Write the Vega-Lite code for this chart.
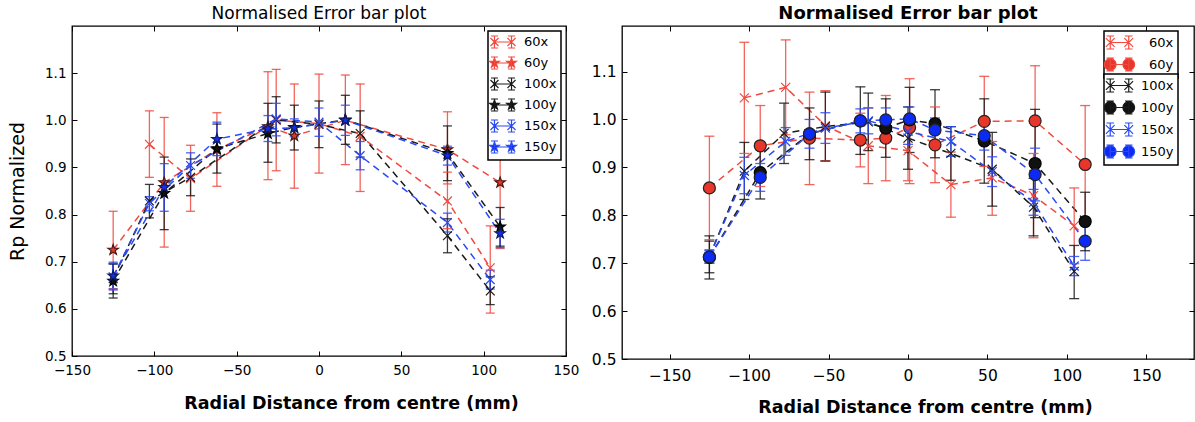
{
"$schema": "https://vega.github.io/schema/vega-lite/v6.json",
"background": "white",
"padding": {"left": 7, "top": 3, "right": 0, "bottom": 0},
"datasets": {"pts": [
{"p":"L","s":"60x","x":-103,"y":0.949,"lo":0.879,"hi":1.020},
{"p":"L","s":"60x","x":-78,"y":0.876,"lo":0.807,"hi":0.947},
{"p":"L","s":"60x","x":-26,"y":1.000,"lo":0.893,"hi":1.108},
{"p":"L","s":"60x","x":0,"y":0.993,"lo":0.888,"hi":1.098},
{"p":"L","s":"60x","x":25,"y":0.966,"lo":0.849,"hi":1.077},
{"p":"L","s":"60x","x":78,"y":0.829,"lo":0.770,"hi":0.890},
{"p":"L","s":"60x","x":104,"y":0.687,"lo":0.591,"hi":0.776},
{"p":"L","s":"60y","x":-125,"y":0.725,"lo":0.643,"hi":0.807},
{"p":"L","s":"60y","x":-94,"y":0.868,"lo":0.731,"hi":1.006},
{"p":"L","s":"60y","x":-62,"y":0.938,"lo":0.860,"hi":1.016},
{"p":"L","s":"60y","x":-31,"y":0.987,"lo":0.874,"hi":1.103},
{"p":"L","s":"60y","x":-15,"y":0.967,"lo":0.856,"hi":1.077},
{"p":"L","s":"60y","x":16,"y":1.000,"lo":0.906,"hi":1.096},
{"p":"L","s":"60y","x":78,"y":0.938,"lo":0.865,"hi":1.018},
{"p":"L","s":"60y","x":110,"y":0.868,"lo":0.728,"hi":1.008},
{"p":"L","s":"100x","x":-125,"y":0.664,"lo":0.632,"hi":0.696},
{"p":"L","s":"100x","x":-103,"y":0.829,"lo":0.793,"hi":0.864},
{"p":"L","s":"100x","x":-78,"y":0.879,"lo":0.840,"hi":0.918},
{"p":"L","s":"100x","x":-26,"y":1.001,"lo":0.952,"hi":1.050},
{"p":"L","s":"100x","x":0,"y":0.991,"lo":0.942,"hi":1.041},
{"p":"L","s":"100x","x":25,"y":0.972,"lo":0.922,"hi":1.020},
{"p":"L","s":"100x","x":78,"y":0.755,"lo":0.719,"hi":0.791},
{"p":"L","s":"100x","x":104,"y":0.638,"lo":0.609,"hi":0.668},
{"p":"L","s":"100y","x":-125,"y":0.659,"lo":0.623,"hi":0.695},
{"p":"L","s":"100y","x":-94,"y":0.845,"lo":0.768,"hi":0.922},
{"p":"L","s":"100y","x":-62,"y":0.940,"lo":0.888,"hi":0.992},
{"p":"L","s":"100y","x":-31,"y":0.972,"lo":0.911,"hi":1.036},
{"p":"L","s":"100y","x":-15,"y":0.985,"lo":0.937,"hi":1.032},
{"p":"L","s":"100y","x":16,"y":1.001,"lo":0.949,"hi":1.053},
{"p":"L","s":"100y","x":78,"y":0.930,"lo":0.872,"hi":0.988},
{"p":"L","s":"100y","x":110,"y":0.774,"lo":0.733,"hi":0.815},
{"p":"L","s":"150x","x":-125,"y":0.668,"lo":0.640,"hi":0.696},
{"p":"L","s":"150x","x":-103,"y":0.824,"lo":0.808,"hi":0.838},
{"p":"L","s":"150x","x":-78,"y":0.904,"lo":0.877,"hi":0.931},
{"p":"L","s":"150x","x":-26,"y":1.003,"lo":0.967,"hi":1.036},
{"p":"L","s":"150x","x":0,"y":0.996,"lo":0.966,"hi":1.026},
{"p":"L","s":"150x","x":25,"y":0.925,"lo":0.895,"hi":0.955},
{"p":"L","s":"150x","x":78,"y":0.783,"lo":0.763,"hi":0.803},
{"p":"L","s":"150x","x":104,"y":0.662,"lo":0.642,"hi":0.682},
{"p":"L","s":"150y","x":-125,"y":0.670,"lo":0.642,"hi":0.699},
{"p":"L","s":"150y","x":-94,"y":0.858,"lo":0.807,"hi":0.908},
{"p":"L","s":"150y","x":-62,"y":0.960,"lo":0.925,"hi":0.996},
{"p":"L","s":"150y","x":-31,"y":0.982,"lo":0.955,"hi":1.010},
{"p":"L","s":"150y","x":-15,"y":0.984,"lo":0.965,"hi":1.003},
{"p":"L","s":"150y","x":16,"y":1.000,"lo":0.968,"hi":1.032},
{"p":"L","s":"150y","x":78,"y":0.925,"lo":0.905,"hi":0.945},
{"p":"L","s":"150y","x":110,"y":0.760,"lo":0.730,"hi":0.790},
{"p":"R","s":"60x","x":-103,"y":1.045,"lo":0.929,"hi":1.161},
{"p":"R","s":"60x","x":-77,"y":1.067,"lo":0.968,"hi":1.166},
{"p":"R","s":"60x","x":-52,"y":0.987,"lo":0.914,"hi":1.060},
{"p":"R","s":"60x","x":-25,"y":0.945,"lo":0.866,"hi":1.024},
{"p":"R","s":"60x","x":0,"y":0.935,"lo":0.872,"hi":0.998},
{"p":"R","s":"60x","x":27,"y":0.864,"lo":0.796,"hi":0.932},
{"p":"R","s":"60x","x":53,"y":0.878,"lo":0.800,"hi":0.954},
{"p":"R","s":"60x","x":79,"y":0.841,"lo":0.753,"hi":0.929},
{"p":"R","s":"60x","x":104.6,"y":0.778,"lo":0.699,"hi":0.857},
{"p":"R","s":"60y","x":-125,"y":0.857,"lo":0.749,"hi":0.965},
{"p":"R","s":"60y","x":-93,"y":0.945,"lo":0.860,"hi":1.029},
{"p":"R","s":"60y","x":-62,"y":0.961,"lo":0.864,"hi":1.057},
{"p":"R","s":"60y","x":-30,"y":0.957,"lo":0.901,"hi":1.013},
{"p":"R","s":"60y","x":-14,"y":0.961,"lo":0.872,"hi":1.050},
{"p":"R","s":"60y","x":1,"y":0.983,"lo":0.866,"hi":1.085},
{"p":"R","s":"60y","x":17,"y":0.947,"lo":0.868,"hi":1.026},
{"p":"R","s":"60y","x":48,"y":0.996,"lo":0.902,"hi":1.090},
{"p":"R","s":"60y","x":80,"y":0.997,"lo":0.882,"hi":1.112},
{"p":"R","s":"60y","x":111.5,"y":0.906,"lo":0.783,"hi":1.029},
{"p":"R","s":"100x","x":-125,"y":0.713,"lo":0.680,"hi":0.746},
{"p":"R","s":"100x","x":-103,"y":0.892,"lo":0.833,"hi":0.952},
{"p":"R","s":"100x","x":-78,"y":0.971,"lo":0.908,"hi":1.034},
{"p":"R","s":"100x","x":-52,"y":0.985,"lo":0.913,"hi":1.057},
{"p":"R","s":"100x","x":-25,"y":0.995,"lo":0.935,"hi":1.055},
{"p":"R","s":"100x","x":0,"y":0.961,"lo":0.896,"hi":1.026},
{"p":"R","s":"100x","x":27,"y":0.929,"lo":0.873,"hi":0.985},
{"p":"R","s":"100x","x":53,"y":0.896,"lo":0.819,"hi":0.973},
{"p":"R","s":"100x","x":79,"y":0.817,"lo":0.757,"hi":0.877},
{"p":"R","s":"100x","x":104.6,"y":0.683,"lo":0.626,"hi":0.737},
{"p":"R","s":"100y","x":-125,"y":0.712,"lo":0.667,"hi":0.757},
{"p":"R","s":"100y","x":-93,"y":0.889,"lo":0.834,"hi":0.944},
{"p":"R","s":"100y","x":-62,"y":0.970,"lo":0.916,"hi":1.024},
{"p":"R","s":"100y","x":-30,"y":0.997,"lo":0.927,"hi":1.068},
{"p":"R","s":"100y","x":-14,"y":0.982,"lo":0.921,"hi":1.043},
{"p":"R","s":"100y","x":1,"y":0.999,"lo":0.931,"hi":1.067},
{"p":"R","s":"100y","x":17,"y":0.991,"lo":0.920,"hi":1.062},
{"p":"R","s":"100y","x":48,"y":0.955,"lo":0.867,"hi":1.043},
{"p":"R","s":"100y","x":80,"y":0.908,"lo":0.795,"hi":1.021},
{"p":"R","s":"100y","x":111.5,"y":0.787,"lo":0.726,"hi":0.848},
{"p":"R","s":"150x","x":-125,"y":0.714,"lo":0.700,"hi":0.728},
{"p":"R","s":"150x","x":-103,"y":0.883,"lo":0.845,"hi":0.921},
{"p":"R","s":"150x","x":-77,"y":0.954,"lo":0.925,"hi":0.983},
{"p":"R","s":"150x","x":-52,"y":0.982,"lo":0.950,"hi":1.014},
{"p":"R","s":"150x","x":-25,"y":0.997,"lo":0.970,"hi":1.024},
{"p":"R","s":"150x","x":0,"y":0.975,"lo":0.948,"hi":1.002},
{"p":"R","s":"150x","x":27,"y":0.954,"lo":0.923,"hi":0.985},
{"p":"R","s":"150x","x":53,"y":0.891,"lo":0.860,"hi":0.922},
{"p":"R","s":"150x","x":79,"y":0.827,"lo":0.800,"hi":0.854},
{"p":"R","s":"150x","x":104.6,"y":0.694,"lo":0.674,"hi":0.714},
{"p":"R","s":"150y","x":-125,"y":0.713,"lo":0.700,"hi":0.726},
{"p":"R","s":"150y","x":-93,"y":0.879,"lo":0.850,"hi":0.908},
{"p":"R","s":"150y","x":-62,"y":0.970,"lo":0.940,"hi":1.000},
{"p":"R","s":"150y","x":-30,"y":0.997,"lo":0.972,"hi":1.022},
{"p":"R","s":"150y","x":-14,"y":0.999,"lo":0.974,"hi":1.024},
{"p":"R","s":"150y","x":1,"y":1.001,"lo":0.976,"hi":1.026},
{"p":"R","s":"150y","x":17,"y":0.978,"lo":0.953,"hi":1.003},
{"p":"R","s":"150y","x":48,"y":0.966,"lo":0.936,"hi":0.996},
{"p":"R","s":"150y","x":80,"y":0.885,"lo":0.830,"hi":0.940},
{"p":"R","s":"150y","x":111.5,"y":0.746,"lo":0.706,"hi":0.786}
]},
"data": {"name": "pts"},
"spacing": 56,
"bounds": "flush",
"hconcat": [
{
 "width": 494, "height": 330,
 "title": {"text": "Normalised Error bar plot", "fontSize": 17, "fontWeight": "normal", "frame": "group", "offset": 3},
 "transform": [{"filter": "datum.p == 'L'"}],
 "layer": [
  {"mark": {"type": "line", "strokeDash": [7, 5], "strokeWidth": 1.5},
   "encoding": {
    "x": {"field": "x", "type": "quantitative", "scale": {"domain": [-150, 150], "nice": false, "zero": false},
          "axis": {"orient": "bottom", "values": [-150, -100, -50, 0, 50, 100, 150], "format": "d", "labelFontSize": 13.5, "labelPadding": 12, "title": "Radial Distance from centre (mm)", "titleFontSize": 17.5, "titleFontWeight": "bold", "titleX": 279, "titlePadding": 18}},
    "y": {"field": "y", "type": "quantitative", "scale": {"domain": [0.5, 1.2], "nice": false, "zero": false},
          "axis": {"orient": "left", "values": [0.5, 0.6, 0.7, 0.8, 0.9, 1.0, 1.1], "format": ".1f", "labelFontSize": 13.5, "title": "Rp Normalized", "titleFontSize": 19, "titleFontWeight": "normal", "titlePadding": 17}},
    "color": {"field": "s", "type": "nominal", "scale": {"domain": ["60x", "60y", "100x", "100y", "150x", "150y"], "range": ["#f04a40", "#f04a40", "#1a1a1a", "#1a1a1a", "#2a4af5", "#2a4af5"]}, "legend": null}
   }},
  {"mark": {"type": "rule", "strokeWidth": 1.3, "opacity": 0.85},
   "encoding": {
    "x": {"field": "x", "type": "quantitative", "axis": {"orient": "top", "values": [-150, -100, -50, 0, 50, 100, 150], "labels": false, "title": null}},
    "y": {"field": "lo", "type": "quantitative", "axis": {"orient": "right", "values": [0.5, 0.6, 0.7, 0.8, 0.9, 1.0, 1.1], "labels": false, "title": null}},
    "y2": {"field": "hi"},
    "color": {"field": "s", "type": "nominal", "legend": null}
   }},
  {"mark": {"type": "tick", "orient": "horizontal", "size": 9, "thickness": 1.3, "opacity": 0.85},
   "encoding": {
    "x": {"field": "x", "type": "quantitative", "axis": null},
    "y": {"field": "lo", "type": "quantitative", "axis": null},
    "color": {"field": "s", "type": "nominal", "legend": null}
   }},
  {"mark": {"type": "tick", "orient": "horizontal", "size": 9, "thickness": 1.3, "opacity": 0.85},
   "encoding": {
    "x": {"field": "x", "type": "quantitative", "axis": null},
    "y": {"field": "hi", "type": "quantitative", "axis": null},
    "color": {"field": "s", "type": "nominal", "legend": null}
   }},
  {"mark": {"type": "point", "opacity": 1, "size": 121, "strokeWidth": 1.2},
   "encoding": {
    "x": {"field": "x", "type": "quantitative", "axis": null},
    "y": {"field": "y", "type": "quantitative", "axis": null},
    "shape": {"field": "s", "type": "nominal", "legend": null, "scale": {"domain": ["60x", "60y", "100x", "100y", "150x", "150y"], "range": [
      "M-0.8,-0.8L0.8,0.8M-0.8,0.8L0.8,-0.8",
      "M0,-1L0.235,-0.324L0.951,-0.309L0.38,0.124L0.588,0.809L0,0.4L-0.588,0.809L-0.38,0.124L-0.951,-0.309L-0.235,-0.324Z",
      "M-0.8,-0.8L0.8,0.8M-0.8,0.8L0.8,-0.8",
      "M0,-1L0.235,-0.324L0.951,-0.309L0.38,0.124L0.588,0.809L0,0.4L-0.588,0.809L-0.38,0.124L-0.951,-0.309L-0.235,-0.324Z",
      "M-0.8,-0.8L0.8,0.8M-0.8,0.8L0.8,-0.8",
      "M0,-1L0.235,-0.324L0.951,-0.309L0.38,0.124L0.588,0.809L0,0.4L-0.588,0.809L-0.38,0.124L-0.951,-0.309L-0.235,-0.324Z"]}},
    "fill": {"field": "s", "type": "nominal", "legend": null, "scale": {"domain": ["60x", "60y", "100x", "100y", "150x", "150y"], "range": ["transparent", "#e8362a", "transparent", "#111111", "transparent", "#1030f0"]}},
    "stroke": {"field": "s", "type": "nominal", "legend": null, "scale": {"domain": ["60x", "60y", "100x", "100y", "150x", "150y"], "range": ["#f04a40", "#4a1a10", "#1a1a1a", "#000000", "#2a4af5", "#101a60"]}}
   }},
  {"transform": [{"filter": "false"}],
   "mark": {"type": "point", "opacity": 1},
   "encoding": {
    "x": {"field": "x", "type": "quantitative", "axis": null},
    "y": {"field": "y", "type": "quantitative", "axis": null},
    "shape": {"field": "s", "type": "nominal", "legend": {"orient": "top-right", "title": null, "symbolOffset": 4}, "scale": {"domain": ["60x", "60y", "100x", "100y", "150x", "150y"], "range": [
      "M-1.42,0L1.42,0M-1.42,-1L-1.42,1M-2,-1L-0.84,-1M-2,1L-0.84,1M1.42,-1L1.42,1M0.84,-1L2,-1M0.84,1L2,1M-2.09,-0.67L-0.75,0.67M-2.09,0.67L-0.75,-0.67M0.75,-0.67L2.09,0.67M0.75,0.67L2.09,-0.67",
      "M-1.42,0L1.42,0M-1.42,-1L-1.42,1M-2,-1L-0.84,-1M-2,1L-0.84,1M1.42,-1L1.42,1M0.84,-1L2,-1M0.84,1L2,1M-1.42,-0.85L-1.22,-0.275L-0.612,-0.263L-1.097,0.105L-0.92,0.688L-1.42,0.34L-1.92,0.688L-1.743,0.105L-2.228,-0.263L-1.62,-0.275ZM1.42,-0.85L1.62,-0.275L2.228,-0.263L1.743,0.105L1.92,0.688L1.42,0.34L0.92,0.688L1.097,0.105L0.612,-0.263L1.22,-0.275Z",
      "M-1.42,0L1.42,0M-1.42,-1L-1.42,1M-2,-1L-0.84,-1M-2,1L-0.84,1M1.42,-1L1.42,1M0.84,-1L2,-1M0.84,1L2,1M-2.09,-0.67L-0.75,0.67M-2.09,0.67L-0.75,-0.67M0.75,-0.67L2.09,0.67M0.75,0.67L2.09,-0.67",
      "M-1.42,0L1.42,0M-1.42,-1L-1.42,1M-2,-1L-0.84,-1M-2,1L-0.84,1M1.42,-1L1.42,1M0.84,-1L2,-1M0.84,1L2,1M-1.42,-0.85L-1.22,-0.275L-0.612,-0.263L-1.097,0.105L-0.92,0.688L-1.42,0.34L-1.92,0.688L-1.743,0.105L-2.228,-0.263L-1.62,-0.275ZM1.42,-0.85L1.62,-0.275L2.228,-0.263L1.743,0.105L1.92,0.688L1.42,0.34L0.92,0.688L1.097,0.105L0.612,-0.263L1.22,-0.275Z",
      "M-1.42,0L1.42,0M-1.42,-1L-1.42,1M-2,-1L-0.84,-1M-2,1L-0.84,1M1.42,-1L1.42,1M0.84,-1L2,-1M0.84,1L2,1M-2.09,-0.67L-0.75,0.67M-2.09,0.67L-0.75,-0.67M0.75,-0.67L2.09,0.67M0.75,0.67L2.09,-0.67",
      "M-1.42,0L1.42,0M-1.42,-1L-1.42,1M-2,-1L-0.84,-1M-2,1L-0.84,1M1.42,-1L1.42,1M0.84,-1L2,-1M0.84,1L2,1M-1.42,-0.85L-1.22,-0.275L-0.612,-0.263L-1.097,0.105L-0.92,0.688L-1.42,0.34L-1.92,0.688L-1.743,0.105L-2.228,-0.263L-1.62,-0.275ZM1.42,-0.85L1.62,-0.275L2.228,-0.263L1.743,0.105L1.92,0.688L1.42,0.34L0.92,0.688L1.097,0.105L0.612,-0.263L1.22,-0.275Z"]}},
    "fill": {"field": "s", "type": "nominal", "legend": {"orient": "top-right", "title": null, "symbolOffset": 4}, "scale": {"domain": ["60x", "60y", "100x", "100y", "150x", "150y"], "range": ["transparent", "#e8362a", "transparent", "#111111", "transparent", "#1030f0"]}},
    "stroke": {"field": "s", "type": "nominal", "legend": {"orient": "top-right", "title": null, "symbolOffset": 4}, "scale": {"domain": ["60x", "60y", "100x", "100y", "150x", "150y"], "range": ["#f04a40", "#f04a40", "#1a1a1a", "#1a1a1a", "#2a4af5", "#2a4af5"]}}
   }}
 ],
 "resolve": {"scale": {"shape": "independent", "fill": "independent", "stroke": "independent"}, "axis": {"x": "independent", "y": "independent"}}
},
{
 "width": 572, "height": 333,
 "title": {"text": "Normalised Error bar plot", "fontSize": 18, "fontWeight": "bold", "frame": "group", "offset": 3},
 "transform": [{"filter": "datum.p == 'R'"}],
 "layer": [
  {"mark": {"type": "line", "strokeDash": [7, 5], "strokeWidth": 1.5},
   "encoding": {
    "x": {"field": "x", "type": "quantitative", "scale": {"domain": [-180, 180], "nice": false, "zero": false},
          "axis": {"orient": "bottom", "values": [-150, -100, -50, 0, 50, 100, 150], "format": "d", "labelFontSize": 15.5, "labelPadding": 14, "title": "Radial Distance from centre (mm)", "titleFontSize": 17.5, "titleFontWeight": "bold", "titleX": 303, "titlePadding": 15}},
    "y": {"field": "y", "type": "quantitative", "scale": {"domain": [0.5, 1.195], "nice": false, "zero": false},
          "axis": {"orient": "left", "values": [0.5, 0.6, 0.7, 0.8, 0.9, 1.0, 1.1], "format": ".1f", "labelFontSize": 15.5, "title": null}},
    "color": {"field": "s", "type": "nominal", "scale": {"domain": ["60x", "60y", "100x", "100y", "150x", "150y"], "range": ["#f04a40", "#f04a40", "#1a1a1a", "#1a1a1a", "#2a4af5", "#2a4af5"]}, "legend": null}
   }},
  {"mark": {"type": "rule", "strokeWidth": 1.3, "opacity": 0.85},
   "encoding": {
    "x": {"field": "x", "type": "quantitative", "axis": {"orient": "top", "values": [-150, -100, -50, 0, 50, 100, 150], "labels": false, "title": null}},
    "y": {"field": "lo", "type": "quantitative", "axis": {"orient": "right", "values": [0.5, 0.6, 0.7, 0.8, 0.9, 1.0, 1.1], "labels": false, "title": null}},
    "y2": {"field": "hi"},
    "color": {"field": "s", "type": "nominal", "legend": null}
   }},
  {"mark": {"type": "tick", "orient": "horizontal", "size": 10, "thickness": 1.3, "opacity": 0.85},
   "encoding": {
    "x": {"field": "x", "type": "quantitative", "axis": null},
    "y": {"field": "lo", "type": "quantitative", "axis": null},
    "color": {"field": "s", "type": "nominal", "legend": null}
   }},
  {"mark": {"type": "tick", "orient": "horizontal", "size": 10, "thickness": 1.3, "opacity": 0.85},
   "encoding": {
    "x": {"field": "x", "type": "quantitative", "axis": null},
    "y": {"field": "hi", "type": "quantitative", "axis": null},
    "color": {"field": "s", "type": "nominal", "legend": null}
   }},
  {"mark": {"type": "point", "opacity": 1, "size": 144, "strokeWidth": 1.2},
   "encoding": {
    "x": {"field": "x", "type": "quantitative", "axis": null},
    "y": {"field": "y", "type": "quantitative", "axis": null},
    "shape": {"field": "s", "type": "nominal", "legend": null, "scale": {"domain": ["60x", "60y", "100x", "100y", "150x", "150y"], "range": [
      "M-0.75,-0.75L0.75,0.75M-0.75,0.75L0.75,-0.75", "circle",
      "M-0.75,-0.75L0.75,0.75M-0.75,0.75L0.75,-0.75", "circle",
      "M-0.75,-0.75L0.75,0.75M-0.75,0.75L0.75,-0.75", "circle"]}},
    "fill": {"field": "s", "type": "nominal", "legend": null, "scale": {"domain": ["60x", "60y", "100x", "100y", "150x", "150y"], "range": ["transparent", "#e8362a", "transparent", "#111111", "transparent", "#0b2af5"]}},
    "stroke": {"field": "s", "type": "nominal", "legend": null, "scale": {"domain": ["60x", "60y", "100x", "100y", "150x", "150y"], "range": ["#f04a40", "#222222", "#1a1a1a", "#000000", "#2a4af5", "#222222"]}}
   }},
  {"transform": [{"filter": "false"}],
   "mark": {"type": "point", "opacity": 1},
   "encoding": {
    "x": {"field": "x", "type": "quantitative", "axis": null},
    "y": {"field": "y", "type": "quantitative", "axis": null},
    "shape": {"field": "s", "type": "nominal", "legend": {"orient": "none", "legendX": 482, "legendY": 5, "title": null, "symbolSize": 170, "symbolOffset": 4, "labelOffset": 22}, "scale": {"domain": ["60x", "60y"], "range": [
      "M-1.42,0L1.42,0M-1.42,-1L-1.42,1M-2,-1L-0.84,-1M-2,1L-0.84,1M1.42,-1L1.42,1M0.84,-1L2,-1M0.84,1L2,1M-2.09,-0.67L-0.75,0.67M-2.09,0.67L-0.75,-0.67M0.75,-0.67L2.09,0.67M0.75,0.67L2.09,-0.67",
      "M-1.42,0L1.42,0M-1.42,-1L-1.42,1M-2,-1L-0.84,-1M-2,1L-0.84,1M1.42,-1L1.42,1M0.84,-1L2,-1M0.84,1L2,1M-2.32,0A0.9,0.9 0 1,1 -0.52,0A0.9,0.9 0 1,1 -2.32,0ZM0.52,0A0.9,0.9 0 1,1 2.32,0A0.9,0.9 0 1,1 0.52,0Z"]}},
    "fill": {"field": "s", "type": "nominal", "legend": {"orient": "none", "legendX": 482, "legendY": 5, "title": null, "symbolSize": 170, "symbolOffset": 4, "labelOffset": 22}, "scale": {"domain": ["60x", "60y"], "range": ["transparent", "#e8362a"]}},
    "stroke": {"field": "s", "type": "nominal", "legend": {"orient": "none", "legendX": 482, "legendY": 5, "title": null, "symbolSize": 170, "symbolOffset": 4, "labelOffset": 22}, "scale": {"domain": ["60x", "60y"], "range": ["#f04a40", "#f04a40"]}}
   }},
  {"transform": [{"filter": "false"}],
   "mark": {"type": "point", "opacity": 1},
   "encoding": {
    "x": {"field": "x", "type": "quantitative", "axis": null},
    "y": {"field": "y", "type": "quantitative", "axis": null},
    "shape": {"field": "s", "type": "nominal", "legend": {"orient": "none", "legendX": 482, "legendY": 48, "title": null, "symbolSize": 170, "symbolOffset": 4}, "scale": {"domain": ["100x", "100y", "150x", "150y"], "range": [
      "M-1.42,0L1.42,0M-1.42,-1L-1.42,1M-2,-1L-0.84,-1M-2,1L-0.84,1M1.42,-1L1.42,1M0.84,-1L2,-1M0.84,1L2,1M-2.09,-0.67L-0.75,0.67M-2.09,0.67L-0.75,-0.67M0.75,-0.67L2.09,0.67M0.75,0.67L2.09,-0.67",
      "M-1.42,0L1.42,0M-1.42,-1L-1.42,1M-2,-1L-0.84,-1M-2,1L-0.84,1M1.42,-1L1.42,1M0.84,-1L2,-1M0.84,1L2,1M-2.32,0A0.9,0.9 0 1,1 -0.52,0A0.9,0.9 0 1,1 -2.32,0ZM0.52,0A0.9,0.9 0 1,1 2.32,0A0.9,0.9 0 1,1 0.52,0Z",
      "M-1.42,0L1.42,0M-1.42,-1L-1.42,1M-2,-1L-0.84,-1M-2,1L-0.84,1M1.42,-1L1.42,1M0.84,-1L2,-1M0.84,1L2,1M-2.09,-0.67L-0.75,0.67M-2.09,0.67L-0.75,-0.67M0.75,-0.67L2.09,0.67M0.75,0.67L2.09,-0.67",
      "M-1.42,0L1.42,0M-1.42,-1L-1.42,1M-2,-1L-0.84,-1M-2,1L-0.84,1M1.42,-1L1.42,1M0.84,-1L2,-1M0.84,1L2,1M-2.32,0A0.9,0.9 0 1,1 -0.52,0A0.9,0.9 0 1,1 -2.32,0ZM0.52,0A0.9,0.9 0 1,1 2.32,0A0.9,0.9 0 1,1 0.52,0Z"]}},
    "fill": {"field": "s", "type": "nominal", "legend": {"orient": "none", "legendX": 482, "legendY": 48, "title": null, "symbolSize": 170, "symbolOffset": 4}, "scale": {"domain": ["100x", "100y", "150x", "150y"], "range": ["transparent", "#111111", "transparent", "#0b2af5"]}},
    "stroke": {"field": "s", "type": "nominal", "legend": {"orient": "none", "legendX": 482, "legendY": 48, "title": null, "symbolSize": 170, "symbolOffset": 4}, "scale": {"domain": ["100x", "100y", "150x", "150y"], "range": ["#1a1a1a", "#1a1a1a", "#2a4af5", "#2a4af5"]}}
   }}
 ],
 "resolve": {"scale": {"shape": "independent", "fill": "independent", "stroke": "independent"}, "axis": {"x": "independent", "y": "independent"}}
}
],
"config": {
 "font": "DejaVu Sans",
 "view": {"stroke": "black", "strokeWidth": 1.3},
 "title": {"font": "DejaVu Sans", "color": "black", "anchor": "middle"},
 "axis": {"domain": false, "grid": false, "tickSize": -5, "tickColor": "black", "tickWidth": 1, "labelPadding": 11, "labelFont": "DejaVu Sans", "labelColor": "black", "labelFlush": false, "labelOverlap": false, "titleFont": "DejaVu Sans", "titleColor": "black"},
 "legend": {"orient": "top-right", "offset": 5, "padding": 4, "strokeColor": "black", "strokeWidth": 1.5, "fillColor": "white", "cornerRadius": 0, "labelFont": "DejaVu Sans", "labelFontSize": 13, "labelColor": "black", "symbolSize": 144, "symbolOffset": 8, "labelOffset": 14, "rowPadding": 3, "symbolStrokeWidth": 1.2, "symbolOpacity": 1}
}
}
